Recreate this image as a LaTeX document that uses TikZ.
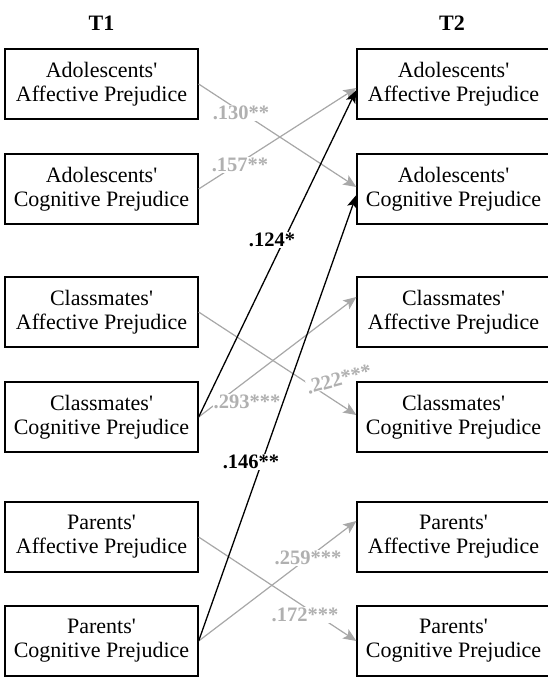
\documentclass[tikz,border=0pt]{standalone}
\usepackage{fontspec}
\setmainfont{Liberation Serif}
\usetikzlibrary{arrows.meta}
\definecolor{lgray}{HTML}{A8A8A8}
\definecolor{tgray}{HTML}{B0B0B0}
\newcommand{\ap}{\textquotesingle}
\begin{document}
\begin{tikzpicture}[x=1pt,y=-1pt,
  box/.style={draw, line width=1.3pt, minimum width=193pt, minimum height=70pt, inner sep=0pt, align=center, font=\fontsize{22}{24}\selectfont},
  head/.style={font=\fontsize{22}{24}\selectfont\bfseries},
  garrow/.style={draw=lgray, line width=1.2pt, -{Stealth[length=13pt,width=11pt,inset=3pt]}, fill=lgray},
  barrow/.style={draw=black, line width=1.3pt, -{Stealth[length=13pt,width=10pt,inset=3pt]}},
  glab/.style={font=\fontsize{20.5}{22}\selectfont\bfseries, text=tgray, fill=white, inner sep=1pt},
  blab/.style={font=\fontsize{20.5}{22}\selectfont\bfseries, text=black, fill=white, inner sep=1pt}]
\useasboundingbox (0,0) rectangle (547,680);
\node[head] (t1) at (101.5,23) {T1};
\node[head] (t2) at (452,23) {T2};
% left boxes
\node[box] (l1) at (101.5,84) {Adolescents\ap\\Affective Prejudice};
\node[box] (l2) at (101.5,189) {Adolescents\ap\\Cognitive Prejudice};
\node[box] (l3) at (101.5,312) {Classmates\ap\\Affective Prejudice};
\node[box] (l4) at (101.5,417) {Classmates\ap\\Cognitive Prejudice};
\node[box] (l5) at (101.5,537) {Parents\ap\\Affective Prejudice};
\node[box] (l6) at (101.5,641) {Parents\ap\\Cognitive Prejudice};
% right boxes
\node[box] (r1) at (453.5,84) {Adolescents\ap\\Affective Prejudice};
\node[box] (r2) at (453.5,189) {Adolescents\ap\\Cognitive Prejudice};
\node[box] (r3) at (453.5,312) {Classmates\ap\\Affective Prejudice};
\node[box] (r4) at (453.5,417) {Classmates\ap\\Cognitive Prejudice};
\node[box] (r5) at (453.5,537) {Parents\ap\\Affective Prejudice};
\node[box] (r6) at (453.5,641) {Parents\ap\\Cognitive Prejudice};
% gray arrows
\draw[garrow] (l1.east) -- ([yshift=2pt]r2.west);
\draw[garrow] (l2.east) -- ([yshift=-4pt]r1.west);
\draw[garrow] (l3.east) -- ([yshift=2pt]r4.west);
\draw[garrow] (l4.east) -- ([yshift=15pt]r3.west);
\draw[garrow] (l5.east) -- (r6.west);
\draw[garrow] (l6.east) -- ([yshift=16pt]r5.west);
% gray labels
\node[glab] (a130) at (241,113) {.130**};
\node[glab] (a157) at (240,165) {.157**};
\node[glab] (a293) at (247,402) {.293***};
\node[glab, rotate=15, inner sep=0pt] (a222) at (339,379) {.222***};
\node[glab] (a259) at (308,558) {.259***};
\node[glab] (a172) at (305,615) {.172***};
% restore the border of r4 under the rotated label
\draw[line width=1.3pt] (r4.north west) -- (r4.north east);
\draw[line width=1.3pt] (r4.north west) -- (r4.south west);
% black arrows
\draw[barrow] (l4.east) -- ([yshift=-6pt]r1.west);
\draw[barrow] (l6.east) -- ([yshift=-6pt]r2.west);
% black labels
\node[blab] (a124) at (272,240) {.124*};
\node[blab] (a146) at (251,462) {.146**};
\end{tikzpicture}
\end{document}
